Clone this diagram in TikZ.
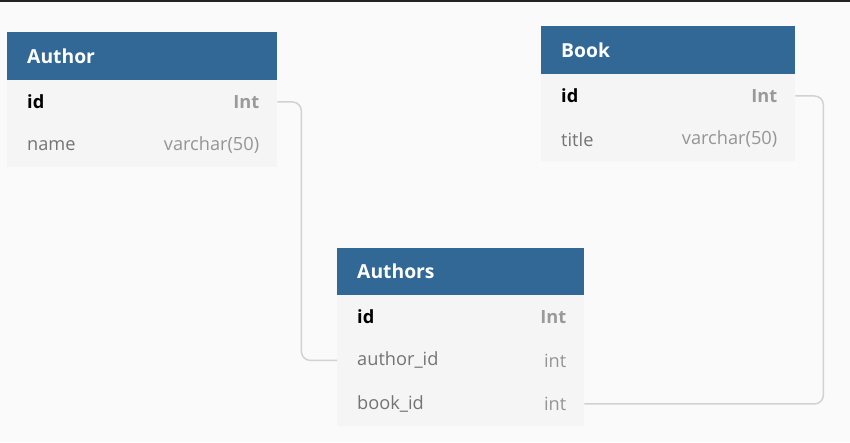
\documentclass[tikz,border=0pt]{standalone}
\usepackage{fontspec}
\setmainfont{Open Sans}
\definecolor{bgc}{HTML}{FAFAFA}
\definecolor{topc}{HTML}{222222}
\definecolor{hdrc}{HTML}{316896}
\definecolor{rowc}{HTML}{F5F5F5}
\definecolor{ktypec}{HTML}{9A9A9A}
\definecolor{fnamec}{HTML}{747474}
\definecolor{ftypec}{HTML}{959595}
\definecolor{linec}{HTML}{D2D2D2}
\tikzset{
  hdrbox/.style={fill=hdrc, draw=none, anchor=north west, minimum height=48pt, inner sep=0pt},
  rowbox/.style={fill=rowc, draw=none, anchor=north west, minimum height=43.5pt, inner sep=0pt},
  hdrtext/.style={anchor=west, inner sep=0pt, text=white, font=\fontsize{19.3}{22}\selectfont\bfseries},
  keyname/.style={anchor=west, inner sep=0pt, text=black, font=\fontsize{18.2}{21}\selectfont\bfseries},
  keytype/.style={anchor=east, inner sep=0pt, text=ktypec, font=\fontsize{18.2}{21}\selectfont\bfseries},
  fname/.style={anchor=west, inner sep=0pt, text=fnamec, font=\fontsize{18.2}{21}\selectfont},
  ftype/.style={anchor=east, inner sep=0pt, text=ftypec, font=\fontsize{18.2}{21}\selectfont},
  conn/.style={draw=linec, line width=1.5pt, rounded corners=9pt}
}
\begin{document}
\begin{tikzpicture}[x=1pt,y=-1pt]
\fill[bgc] (0,0) rectangle (850,442);
\useasboundingbox (0,0) rectangle (850,442);
\fill[topc] (0,0) rectangle (850,2);

% Author
\node[hdrbox, minimum width=270pt] (a-h) at (7,32) {};
\node[hdrtext] (a-ht) at ([xshift=20pt]a-h.west) {Author};
\node[rowbox, minimum width=270pt] (a-id) at (7,80) {};
\node[keyname] (a-id-n) at ([xshift=20pt]a-id.west) {id};
\node[keytype] (a-id-t) at ([xshift=-18pt]a-id.east) {Int};
\node[rowbox, minimum width=270pt] (a-nm) at (7,123.5) {};
\node[fname] (a-nm-n) at ([xshift=20pt]a-nm.west) {name};
\node[ftype] (a-nm-t) at ([xshift=-18pt]a-nm.east) {varchar(50)};

% Book
\node[hdrbox, minimum width=254pt] (b-h) at (541,26) {};
\node[hdrtext] (b-ht) at ([xshift=20pt]b-h.west) {Book};
\node[rowbox, minimum width=254pt] (b-id) at (541,74) {};
\node[keyname] (b-id-n) at ([xshift=20pt]b-id.west) {id};
\node[keytype] (b-id-t) at ([xshift=-18pt]b-id.east) {Int};
\node[rowbox, minimum width=254pt] (b-tt) at (541,117.5) {};
\node[fname] (b-tt-n) at ([xshift=20pt]b-tt.west) {title};
\node[ftype] (b-tt-t) at ([xshift=-18pt]b-tt.east) {varchar(50)};

% Authors
\node[hdrbox, minimum width=247pt, minimum height=47pt] (s-h) at (337,248) {};
\node[hdrtext] (s-ht) at ([xshift=20pt]s-h.west) {Authors};
\node[rowbox, minimum width=247pt] (s-id) at (337,295) {};
\node[keyname] (s-id-n) at ([xshift=20pt]s-id.west) {id};
\node[keytype] (s-id-t) at ([xshift=-18pt]s-id.east) {Int};
\node[rowbox, minimum width=247pt] (s-aid) at (337,338.5) {};
\node[fname] (s-aid-n) at ([xshift=20pt]s-aid.west) {author\_id};
\node[ftype] (s-aid-t) at ([xshift=-18pt]s-aid.east) {int};
\node[rowbox, minimum width=247pt] (s-bid) at (337,382) {};
\node[fname] (s-bid-n) at ([xshift=20pt]s-bid.west) {book\_id};
\node[ftype] (s-bid-t) at ([xshift=-18pt]s-bid.east) {int};

% connectors
\draw[conn] (a-id.east) -- ([xshift=24pt]a-id.east) |- (s-aid.west);
\draw[conn] (b-id.east) -- ([xshift=28pt]b-id.east) |- (s-bid.east);
\end{tikzpicture}
\end{document}
